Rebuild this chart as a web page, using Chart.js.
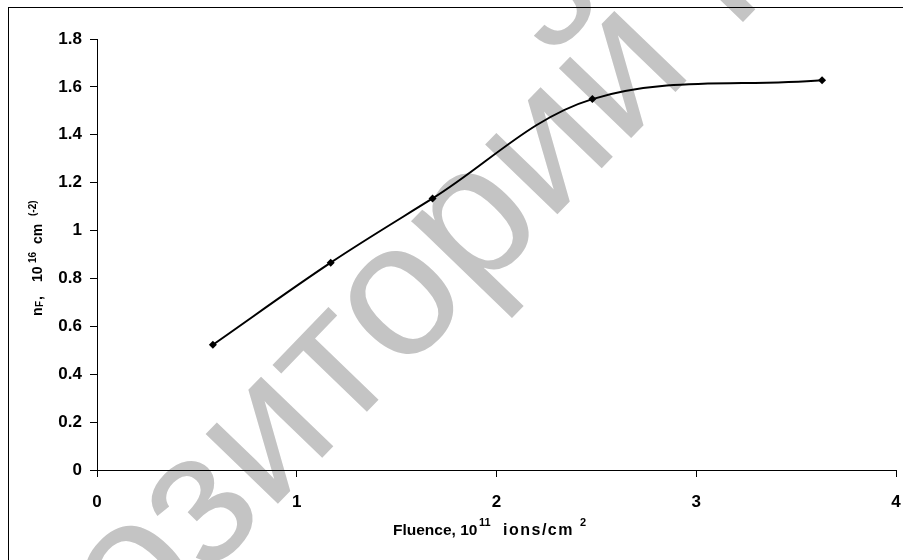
<!DOCTYPE html>
<html>
<head>
<meta charset="UTF-8">
<title>Fluence vs nF</title>
<script src="https://cdn.jsdelivr.net/npm/chart.js@4.4.1/dist/chart.umd.min.js"></script>
<style>
  html, body { margin: 0; padding: 0; background: #fff; }
  #wrap { position: relative; width: 903px; height: 560px; }
</style>
</head>
<body>
<div id="wrap"><canvas id="chart"></canvas></div>
<script>
// Data
const fluence = [0.58, 1.17, 1.68, 2.48, 3.63];
const density = [0.523, 0.866, 1.134, 1.549, 1.628];
const yTicks = [0, 0.2, 0.4, 0.6, 0.8, 1, 1.2, 1.4, 1.6, 1.8];
const xTicks = [0, 1, 2, 3, 4];

const FONT = '"Liberation Sans", Arial, sans-serif';

// text pieces placed at fixed offsets along a line (for super/subscripts)
function drawPieces(ctx, pieces) {
  pieces.forEach(p => {
    ctx.font = 'bold ' + p.size + 'px ' + FONT;
    ctx.letterSpacing = (p.ls || 0) + 'px';
    ctx.fillText(p.t, p.x, p.dy || 0);
  });
  ctx.letterSpacing = '0px';
}

const decor = {
  id: 'decor',
  beforeDraw(chart) {
    const ctx = chart.ctx;
    ctx.save();
    ctx.fillStyle = '#fff';
    ctx.fillRect(0, 0, chart.width, chart.height);
    // watermark, centred on the second "о"
    const size = 190;
    ctx.font = size + 'px ' + FONT;
    const word = 'Репозиторий ГГУ';
    const before = ctx.measureText('Репозит').width + ctx.measureText('о').width / 2;
    ctx.translate(404, 302);
    ctx.rotate(-46 * Math.PI / 180);
    ctx.fillStyle = '#c4c4c4';
    ctx.textBaseline = 'alphabetic';
    ctx.fillText(word, -before, size * 0.26);
    ctx.restore();
  },
  afterDraw(chart) {
    const ctx = chart.ctx;
    ctx.save();
    // outer frame
    ctx.strokeStyle = '#000';
    ctx.lineWidth = 1;
    ctx.strokeRect(8.5, 7.5, 1000, 1000);
    ctx.fillStyle = '#000';
    ctx.textBaseline = 'alphabetic';
    // x title
    ctx.save();
    ctx.translate(0, 535);
    drawPieces(ctx, [
      {t: 'Fluence, 10', size: 15.5, x: 393},
      {t: '11', size: 11, x: 479, dy: -9},
      {t: 'ions/cm', size: 16, x: 503, ls: 1.5},
      {t: '2', size: 11, x: 580, dy: -9}
    ]);
    ctx.restore();
    // y title
    ctx.translate(42, 316);
    ctx.rotate(-Math.PI / 2);
    drawPieces(ctx, [
      {t: 'n', size: 14, x: 0},
      {t: 'F', size: 10, x: 9, dy: 1},
      {t: ',', size: 14, x: 16},
      {t: '10', size: 14, x: 34},
      {t: '16', size: 10, x: 53, dy: -6},
      {t: 'cm', size: 14, x: 72},
      {t: '(-2)', size: 10, x: 100, dy: -6}
    ]);
    ctx.restore();
  }
};

new Chart(document.getElementById('chart'), {
  type: 'line',
  data: {
    datasets: [{
      data: fluence.map((x, i) => ({x: x, y: density[i]})),
      borderColor: '#000',
      backgroundColor: '#000',
      borderWidth: 2,
      tension: 0.35,
      pointStyle: 'rectRot',
      pointRadius: 4,
      pointBorderWidth: 0,
      fill: false
    }]
  },
  options: {
    responsive: true,
    maintainAspectRatio: false,
    animation: false,
    layout: { padding: { top: 39, right: 0, left: 0, bottom: 0 } },
    plugins: { legend: { display: false }, tooltip: { enabled: false } },
    scales: {
      x: {
        type: 'linear',
        min: 0, max: 4,
        afterBuildTicks: s => { s.ticks = xTicks.map(v => ({value: v})); },
        afterFit: s => { s.height = 90; s.paddingLeft = 0; s.paddingRight = 7; },
        grid: { drawOnChartArea: false, drawTicks: true, tickLength: 7, color: '#000' },
        border: { display: true, color: '#000', width: 1 },
        ticks: { color: '#000', font: { family: FONT, size: 17, weight: 'bold' }, padding: 15,
                 maxRotation: 0, callback: v => String(v) }
      },
      y: {
        type: 'linear',
        min: 0, max: 1.8,
        afterBuildTicks: s => { s.ticks = yTicks.map(v => ({value: v})); },
        afterFit: s => { s.width = 97; },
        grid: { drawOnChartArea: false, drawTicks: true, tickLength: 7, color: '#000' },
        border: { display: true, color: '#000', width: 1 },
        ticks: { color: '#000', font: { family: FONT, size: 17, weight: 'bold' }, padding: 8,
                 callback: v => String(+v.toFixed(1)) }
      }
    }
  },
  plugins: [decor]
});
</script>
</body>
</html>
